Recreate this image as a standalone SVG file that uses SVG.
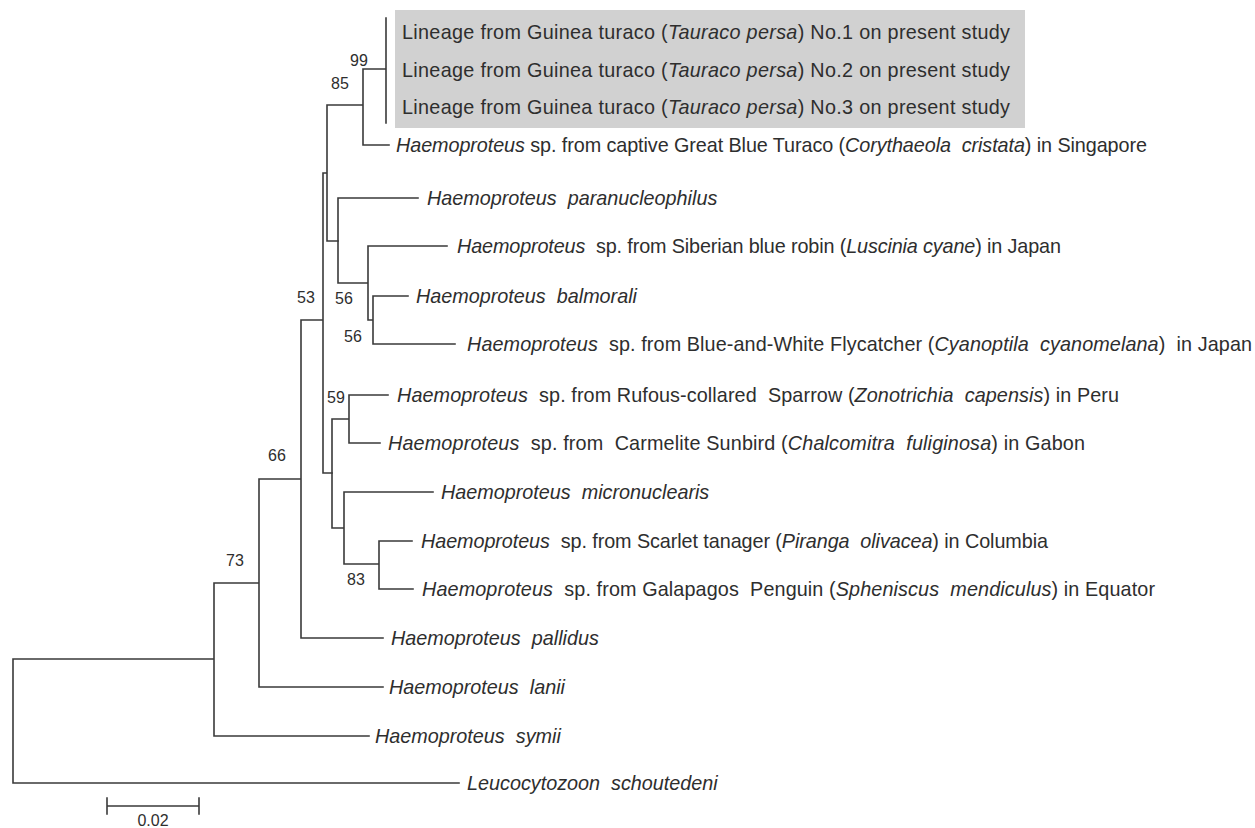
<svg xmlns="http://www.w3.org/2000/svg" width="1255" height="828" viewBox="0 0 1255 828" xml:space="preserve">
<style>
.t{font-family:"Liberation Sans",Arial,sans-serif;font-size:19.8px;fill:#2e2e2e;white-space:pre}
.i{font-style:italic}
.b{font-family:"Liberation Sans",Arial,sans-serif;font-size:16px;fill:#2e2e2e;text-anchor:middle}
.ln{fill:none;stroke:#3a3a3a;stroke-width:1.6;stroke-linecap:square}
</style>
<rect x="0" y="0" width="1255" height="828" fill="#ffffff"/>
<rect id="highlight" x="395" y="10" width="630" height="118" fill="#d1d1d1"/>
<g id="connectors" class="ln">
<path d="M13,659V783M13,659H214M13,783H459M214,583V736M214,583H259M214,736H369M259,479V687M259,479H301M259,687H383M301,320V638M301,320H323M301,638H383M323,173V473M323,173H327M323,473H332M327,105V241M327,105H363M327,241H338M363,69V145M363,69H386M363,145H389M386,18V123"/>
<path d="M338,198V283M338,198H418M338,283H368M368,246V320M368,246H447M368,320H373M373,296V344M373,296H408M373,344H455"/>
<path d="M332,419V528M332,419H349M332,528H344M349,395V443M349,395H388M349,443H380M344,492V564M344,492H433M344,564H379M379,541V589M379,541H412M379,589H413"/>
</g>
<g id="lineage1"><text class="t" x="402" y="39" textLength="608" lengthAdjust="spacing">Lineage from Guinea turaco (<tspan class="i">Tauraco persa</tspan>) No.1 on present study</text></g>
<g id="lineage2"><text class="t" x="402" y="76.5" textLength="608" lengthAdjust="spacing">Lineage from Guinea turaco (<tspan class="i">Tauraco persa</tspan>) No.2 on present study</text></g>
<g id="lineage3"><text class="t" x="402" y="114" textLength="608" lengthAdjust="spacing">Lineage from Guinea turaco (<tspan class="i">Tauraco persa</tspan>) No.3 on present study</text></g>
<g id="captive"><text class="t" x="396" y="152" textLength="751" lengthAdjust="spacing"><tspan class="i">Haemoproteus</tspan> sp. from captive Great Blue Turaco (<tspan class="i">Corythaeola  cristata</tspan>) in Singapore</text></g>
<g id="paranucleophilus"><text class="t" x="427" y="205"><tspan class="i">Haemoproteus  paranucleophilus</tspan></text></g>
<g id="siberian"><text class="t" x="457" y="253" textLength="604" lengthAdjust="spacing"><tspan class="i">Haemoproteus</tspan>  sp. from Siberian blue robin (<tspan class="i">Luscinia cyane</tspan>) in Japan</text></g>
<g id="balmorali"><text class="t" x="416" y="303"><tspan class="i">Haemoproteus  balmorali</tspan></text></g>
<g id="flycatcher"><text class="t" x="467" y="351" textLength="785" lengthAdjust="spacing"><tspan class="i">Haemoproteus</tspan>  sp. from Blue-and-White Flycatcher (<tspan class="i">Cyanoptila  cyanomelana</tspan>)  in Japan</text></g>
<g id="sparrow"><text class="t" x="397" y="402" textLength="722" lengthAdjust="spacing"><tspan class="i">Haemoproteus</tspan>  sp. from Rufous-collared  Sparrow (<tspan class="i">Zonotrichia  capensis</tspan>) in Peru</text></g>
<g id="sunbird"><text class="t" x="388" y="450" textLength="697" lengthAdjust="spacing"><tspan class="i">Haemoproteus</tspan>  sp. from  Carmelite Sunbird (<tspan class="i">Chalcomitra  fuliginosa</tspan>) in Gabon</text></g>
<g id="micronuclearis"><text class="t" x="441" y="499"><tspan class="i">Haemoproteus  micronuclearis</tspan></text></g>
<g id="tanager"><text class="t" x="421" y="548" textLength="627" lengthAdjust="spacing"><tspan class="i">Haemoproteus</tspan>  sp. from Scarlet tanager (<tspan class="i">Piranga  olivacea</tspan>) in Columbia</text></g>
<g id="penguin"><text class="t" x="422" y="596" textLength="733" lengthAdjust="spacing"><tspan class="i">Haemoproteus</tspan>  sp. from Galapagos  Penguin (<tspan class="i">Spheniscus  mendiculus</tspan>) in Equator</text></g>
<g id="pallidus"><text class="t" x="391" y="645"><tspan class="i">Haemoproteus  pallidus</tspan></text></g>
<g id="lanii"><text class="t" x="389" y="694"><tspan class="i">Haemoproteus  lanii</tspan></text></g>
<g id="symii"><text class="t" x="375" y="743"><tspan class="i">Haemoproteus  symii</tspan></text></g>
<g id="leucocytozoon"><text class="t" x="467" y="790"><tspan class="i">Leucocytozoon  schoutedeni</tspan></text></g>
<g id="bootstrap">
<text class="b" x="359" y="66">99</text>
<text class="b" x="340" y="89">85</text>
<text class="b" x="306" y="303">53</text>
<text class="b" x="344" y="304">56</text>
<text class="b" x="353" y="342">56</text>
<text class="b" x="336" y="403">59</text>
<text class="b" x="356" y="585">83</text>
<text class="b" x="277" y="461">66</text>
<text class="b" x="235" y="566">73</text>
</g>
<g id="scalebar">
<path class="ln" d="M107,806H199M107,798V814M199,798V814"/>
<text class="b" x="153" y="826">0.02</text>
</g>
</svg>
